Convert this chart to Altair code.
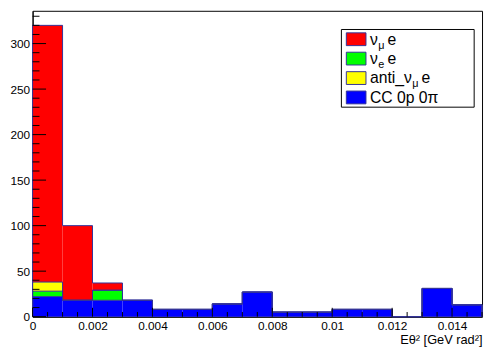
import altair as alt
import pandas as pd

# ---- data ----
bin_lo = [0.000, 0.001, 0.002, 0.003, 0.004, 0.005, 0.006, 0.007,
          0.008, 0.009, 0.010, 0.011, 0.012, 0.013, 0.014]
bin_width = 0.001

cc0p0pi = [22, 18, 18, 18, 8, 8, 14, 27, 5, 5, 8, 8, 0, 31, 13]
nue_e = [6, 0, 11, 0, 0, 0, 0, 0, 0, 0, 0, 0, 0, 0, 0]
anti_numu_e = [10, 0, 0, 0, 0, 0, 0, 0, 0, 0, 0, 0, 0, 0, 0]
numu_e = [282, 82, 8, 0, 0, 0, 0, 0, 0, 0, 0, 0, 0, 0, 0]

# stacking order bottom -> top
stack_names = ["CC 0p 0π", "νe e", "anti_νμ e", "νμ e"]
stack_values = [cc0p0pi, nue_e, anti_numu_e, numu_e]
stack_colors = ["#0000ff", "#00ff00", "#ffff00", "#ff0000"]

x_major = [0, 0.002, 0.004, 0.006, 0.008, 0.010, 0.012, 0.014]
y_major = [0, 50, 100, 150, 200, 250, 300]

X_MAX = 0.015
Y_MAX = 336
W, H = 457, 311
LINE = "#333399"
FONT = "Liberation Sans"

# ---- tables ----
rect_rows, line_rows = [], []
cum = [0.0] * len(bin_lo)
for name, vals in zip(stack_names, stack_values):
    new = [c + v for c, v in zip(cum, vals)]
    for i, lo in enumerate(bin_lo):
        if vals[i] > 0:
            rect_rows.append(dict(series=name, x0=lo, x1=lo + bin_width,
                                  y0=cum[i], y1=new[i]))
    pts = [(bin_lo[0], 0.0)]
    pts += [(lo, new[i]) for i, lo in enumerate(bin_lo)]
    pts += [(bin_lo[-1] + bin_width, new[-1]), (bin_lo[-1] + bin_width, 0.0)]
    for k, (xx, yy) in enumerate(pts):
        line_rows.append(dict(series=name, i=k, x=xx, y=yy))
    cum = new

rects = pd.DataFrame(rect_rows)
lines = pd.DataFrame(line_rows)

xs = alt.Scale(domain=[0, X_MAX], nice=False, zero=False)
ys = alt.Scale(domain=[0, Y_MAX], nice=False, zero=False)

x_axis = alt.Axis(values=x_major, format="~g", ticks=False, tickSize=0, grid=False,
                  labelFont=FONT, labelFontSize=12, labelColor="black", labelPadding=4,
                  domainColor="black", title="Eθ² [GeV rad²]", titleFont=FONT,
                  titleFontSize=13, titleFontWeight="normal", titleColor="black",
                  titleX=W, titleY=27, titleAlign="right", titleBaseline="alphabetic",
                  labelFlush=False, labelOverlap=False)
y_axis = alt.Axis(values=y_major, format="d", ticks=False, tickSize=0, grid=False,
                  labelFont=FONT, labelFontSize=12, labelColor="black", labelPadding=3,
                  domainColor="black", title="", labelFlush=False, labelOverlap=False)

fills = alt.Chart(rects).mark_rect(strokeWidth=0).encode(
    x=alt.X("x0:Q", scale=xs, axis=x_axis),
    x2="x1:Q",
    y=alt.Y("y0:Q", scale=ys, axis=y_axis),
    y2="y1:Q",
    color=alt.Color("series:N", scale=alt.Scale(domain=stack_names, range=stack_colors),
                    legend=None),
)

outlines = alt.Chart(lines).mark_line(interpolate="step-after", color=LINE,
                                      strokeWidth=1).encode(
    x=alt.X("x:Q", scale=xs, axis=x_axis),
    y=alt.Y("y:Q", scale=ys, axis=y_axis),
    detail="series:N",
    order="i:Q",
)

# inward ROOT-style ticks
x_minor = [i * 0.0005 for i in range(31)]
y_minor = [i * 10 for i in range(34)]
xt = pd.DataFrame(dict(v=x_minor, major=[abs(v / 0.002 - round(v / 0.002)) < 1e-6 for v in x_minor]))
yt = pd.DataFrame(dict(v=y_minor, major=[v % 50 == 0 for v in y_minor]))

x_ticks_major = alt.Chart(xt[xt.major]).mark_rule(color="black").encode(
    x=alt.X("v:Q", scale=xs, axis=x_axis), y=alt.value(H), y2=alt.value(H - 9))
x_ticks_minor = alt.Chart(xt[~xt.major]).mark_rule(color="black").encode(
    x=alt.X("v:Q", scale=xs, axis=x_axis), y=alt.value(H), y2=alt.value(H - 4.7))
y_ticks_major = alt.Chart(yt[yt.major]).mark_rule(color="black").encode(
    y=alt.Y("v:Q", scale=ys, axis=y_axis), x=alt.value(0), x2=alt.value(13.7))
y_ticks_minor = alt.Chart(yt[~yt.major]).mark_rule(color="black").encode(
    y=alt.Y("v:Q", scale=ys, axis=y_axis), x=alt.value(0), x2=alt.value(7))

# ---- legend (ROOT TLegend look) ----
one = pd.DataFrame({"a": [0]})
legend_layers = [
    alt.Chart(one).mark_rect(fill="white", stroke="black", strokeWidth=1).encode(
        x=alt.value(314), x2=alt.value(449), y=alt.value(19), y2=alt.value(98))
]
legend_entries = [
    ("#ff0000", [("ν", 0, 16, 0), ("μ", 8.5, 11, 4), ("e", 18, 16, 0)]),
    ("#00ff00", [("ν", 0, 16, 0), ("e", 8.5, 11, 4), ("e", 18, 16, 0)]),
    ("#ffff00", [("anti_ν", 0, 16, 0), ("μ", 43, 11, 4), ("e", 52.5, 16, 0)]),
    ("#0000ff", [("CC 0p 0π", 0, 16, 0)]),
]
row_centers = [28.9, 48.6, 68.4, 88.1]
for (col, parts), cy in zip(legend_entries, row_centers):
    legend_layers.append(
        alt.Chart(one).mark_rect(fill=col, stroke=LINE, strokeWidth=1).encode(
            x=alt.value(319), x2=alt.value(339), y=alt.value(cy - 6.5), y2=alt.value(cy + 6.5)))
    for txt, dx, size, dy in parts:
        legend_layers.append(
            alt.Chart(one).mark_text(text=txt, font=FONT, fontSize=size, color="black",
                                     align="left", baseline="alphabetic").encode(
                x=alt.value(343 + dx), y=alt.value(cy + 5.5 + dy)))

chart = alt.layer(
    fills, outlines, x_ticks_major, x_ticks_minor, y_ticks_major, y_ticks_minor,
    *legend_layers
).properties(
    width=W, height=H,
    autosize=alt.AutoSizeParams(type="none"),
    padding={"left": 25, "top": 0, "right": 2, "bottom": 28},
    background="white",
).configure_view(stroke="black", strokeWidth=1)

chart.save("out.html", embed_options={"renderer": "svg", "actions": False})
